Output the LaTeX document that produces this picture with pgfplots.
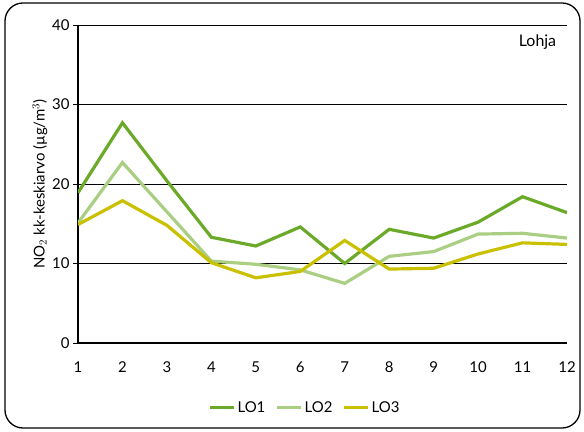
\documentclass[border=0pt]{standalone}
\usepackage{fontspec}
\setmainfont{Lato}
\usepackage{pgfplots}
\pgfplotsset{compat=1.18}
\definecolor{loA}{RGB}{107,170,40}
\definecolor{loB}{RGB}{170,207,130}
\definecolor{loC}{RGB}{201,192,0}
\begin{document}
\begin{tikzpicture}
\useasboundingbox (-78bp,-89bp) rectangle (506bp,343bp);
\begin{axis}[
  at={(0,0)}, anchor=south west,
  scale only axis, width=489bp, height=318bp,
  xmin=1, xmax=12, ymin=0, ymax=40,
  xtick={1,...,12}, ytick={0,10,20,30,40},
  axis x line*=bottom, axis y line*=left,
  axis line style={black, line width=1.2pt},
  ymajorgrids, grid style={black, line width=0.7pt},
  x tick style={draw=none},
  y tick style={black, line width=0.7pt},
  tick align=outside, major tick length=5bp,
  ticklabel style={font=\fontsize{15}{17}\selectfont},
  /pgf/number format/assume math mode=true,
  xticklabel style={yshift=-10bp},
  ylabel={NO$_2$ kk-keskiarvo (µg/m$^3$)},
  ylabel style={font=\fontsize{15}{17}\selectfont, yshift=-2bp},
  legend style={at={(0.464,-0.204)}, anchor=center, draw=none, legend columns=3,
    font=\fontsize{15}{17}\selectfont, /tikz/every even column/.append style={column sep=8bp}},
  legend image code/.code={\draw[#1, line width=3.2pt] (0cm,0cm) -- (0.85cm,0cm);},
  every axis plot/.append style={line width=3.2pt, line join=miter},
]
\addplot[loA] coordinates {(1,18.9) (2,27.7) (3,20.4) (4,13.3) (5,12.2) (6,14.6) (7,10.0) (8,14.3) (9,13.2) (10,15.2) (11,18.4) (12,16.4)};
\addplot[loB] coordinates {(1,15.1) (2,22.7) (3,16.5) (4,10.3) (5,9.9) (6,9.2) (7,7.5) (8,10.9) (9,11.5) (10,13.7) (11,13.8) (12,13.2)};
\addplot[loC] coordinates {(1,14.9) (2,17.9) (3,14.8) (4,10.1) (5,8.2) (6,9.0) (7,12.9) (8,9.3) (9,9.4) (10,11.2) (11,12.6) (12,12.4)};
\legend{LO1,LO2,LO3}
\node[font=\fontsize{16}{18}\selectfont, anchor=east] at (rel axis cs:0.985,0.947) {Lohja};
\end{axis}
\draw[black, line width=1.3pt, rounded corners=18bp] (-73bp,-85bp) rectangle (502bp,340bp);
\end{tikzpicture}
\end{document}
